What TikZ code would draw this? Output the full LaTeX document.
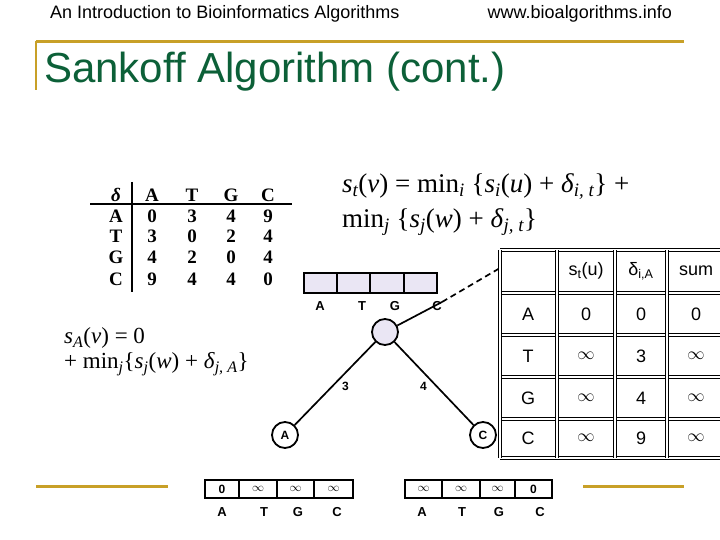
\documentclass[tikz,border=0pt]{standalone}
\usepackage{fontspec}
\setmainfont{Liberation Sans}
\newfontfamily\tms{Liberation Serif}
\usetikzlibrary{arrows.meta}
\definecolor{gold}{RGB}{200,160,40}
\definecolor{ttlgreen}{RGB}{12,96,56}
\definecolor{lav}{RGB}{234,230,244}
\newcommand{\iv}[1]{\textit{#1}}
\newcommand{\sbs}[1]{\textsubscript{\itshape #1}}
\tikzset{
  goldline/.style={draw=gold, line width=3pt},
  dtxt/.style={font=\tms\bfseries\fontsize{19}{19}\selectfont},
  treebox/.style={draw, line width=1.3pt, fill=lav, minimum width=33pt, minimum height=20pt, inner sep=0pt},
  botbox/.style={draw, line width=1.3pt, minimum height=18pt, inner sep=0pt, font=\bfseries\fontsize{12}{12}\selectfont},
  blbl/.style={font=\bfseries\fontsize{13}{13}\selectfont},
  tnode/.style={circle, draw, line width=1.8pt, minimum size=26pt, inner sep=0pt, font=\bfseries\fontsize{12}{12}\selectfont},
  edge/.style={line width=1.7pt},
  tbl/.style={draw, double, double distance=2pt, line width=0.9pt},
  ttxt/.style={font=\fontsize{18}{18}\selectfont},
}
\begin{document}
\begin{tikzpicture}[x=1pt,y=-1pt]
\useasboundingbox (0,0) rectangle (720,540);
\clip (0,0) rectangle (720,540);
% header
\node[anchor=west, inner sep=0pt, font=\fontsize{18}{18}\selectfont] (hdl) at (50,14) {An Introduction to Bioinformatics Algorithms};
\node[anchor=east, inner sep=0pt, font=\fontsize{18}{18}\selectfont] (hdr) at (672,14) {www.bioalgorithms.info};
\draw[goldline] (36,42) -- (684,42);
\draw[draw=gold, line width=2.5pt] (36,41) -- (36,90);
\node[anchor=west, inner sep=0pt, text=ttlgreen, font=\fontsize{42}{42}\selectfont] (title) at (44,72) {Sankoff Algorithm (cont.)};

% delta table
\draw[line width=2pt] (90,204) -- (292,204);
\draw[line width=2pt] (132,182) -- (132,292);
\node[dtxt] (dh) at (116,195) {\itshape δ};
\foreach \c/\x in {A/152,T/192,G/231,C/268} {\node[dtxt] (dc\c) at (\x,195) {\c};}
\foreach \r/\y/\va/\vt/\vg/\vc in {A/216/0/3/4/9, T/236/3/0/2/4, G/257/4/2/0/4, C/279/9/4/4/0} {
  \node[dtxt] (dr\r) at (116,\y) {\r};
  \node[dtxt] (d\r A) at (152,\y) {\va};
  \node[dtxt] (d\r T) at (192,\y) {\vt};
  \node[dtxt] (d\r G) at (231,\y) {\vg};
  \node[dtxt] (d\r C) at (268,\y) {\vc};
}

% formulas
\node[anchor=west, inner sep=0pt, font=\tms\fontsize{27}{35}\selectfont, align=left] (f1) at (342,205)
  {\iv{s}\sbs{t}(\iv{v}) = min\sbs{i} \{\iv{s}\sbs{i}(\iv{u}) + \iv{δ}\sbs{i, t}\} +\\
   min\sbs{j} \{\iv{s}\sbs{j}(\iv{w}) + \iv{δ}\sbs{j, t}\}};
\node[anchor=west, inner sep=0pt, font=\tms\fontsize{23}{25}\selectfont, align=left] (f2) at (64,352)
  {\iv{s}\sbs{A}(\iv{v}) = 0\\
   + min\sbs{j}\{\iv{s}\sbs{j}(\iv{w}) + \iv{δ}\sbs{j, A}\}};

% tree top box
\foreach \l/\x/\lx in {A/320.5/320,T/353.5/362,G/387/395,C/420.5/437} {
  \node[treebox] (tb\l) at (\x,283) {};
  \node[blbl] (tl\l) at (\lx,306) {\l};
}
\node[tnode, fill=lav] (root) at (385,332) {};
\node[tnode] (la) at (285,435) {A};
\node[tnode] (lc) at (483,435) {C};
\draw[edge] (root) -- node[pos=0.45, below right=-1pt, font=\bfseries\fontsize{12}{12}\selectfont] (e3) {3} (la);
\draw[edge] (root) -- node[pos=0.45, below left=-1pt, font=\bfseries\fontsize{12}{12}\selectfont] (e4) {4} (lc);
\coordinate (up1) at (442,302);
\coordinate (up2) at (500,268);
\draw[edge] (root) -- (up1);
\draw[edge, dashed, dash pattern=on 6pt off 4pt] (up1) -- (up2);

% bottom boxes
\foreach \n/\a/\b/\t in {1/205/239/0, 2/239/277/$\infty$, 3/277/314/$\infty$, 4/314/353/$\infty$} {
  \node[botbox, minimum width={(\b-\a)*1pt}] (bl\n) at ({(\a+\b)/2},489) {\t};
}
\foreach \n/\a/\b/\t in {1/405/442/$\infty$, 2/442/480/$\infty$, 3/480/515/$\infty$, 4/515/552/0} {
  \node[botbox, minimum width={(\b-\a)*1pt}] (br\n) at ({(\a+\b)/2},489) {\t};
}
\foreach \l/\x in {A/222,T/264,G/298,C/337} {\node[blbl] (bll\l) at (\x,512) {\l};}
\foreach \l/\x in {A/422,T/462,G/499,C/540} {\node[blbl] (brl\l) at (\x,512) {\l};}
\draw[goldline] (36,486) -- (168,486);
\draw[goldline] (583,486) -- (684,486);

% right table
\foreach \y in {250,293,335,377,419,458} {\draw[tbl] (500,\y) -- (725,\y);}
\foreach \x in {500,557,615,667} {\draw[tbl] (\x,250) -- (\x,458);}
\node[ttxt] (hs) at (586,271) {s\textsubscript{t}(u)};
\node[ttxt] (hd) at (641,271) {δ\textsubscript{i,A}};
\node[ttxt] (hsum) at (696,271) {sum};
\foreach \r/\y/\a/\b/\c in {A/314/0/0/0, T/356/$\infty$/3/$\infty$, G/398/$\infty$/4/$\infty$, C/438/$\infty$/9/$\infty$} {
  \node[ttxt] (r\r) at (528,\y) {\r};
  \node[ttxt] (s\r) at (586,\y) {\a};
  \node[ttxt] (dd\r) at (641,\y) {\b};
  \node[ttxt] (sm\r) at (696,\y) {\c};
}
\end{tikzpicture}
\end{document}
